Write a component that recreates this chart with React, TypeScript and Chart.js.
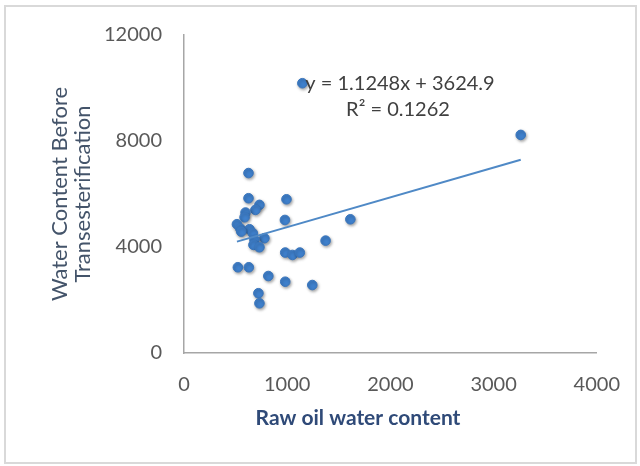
import React, { useEffect, useRef } from "react";
import { Chart, registerables } from "chart.js";

Chart.register(...registerables);

// Raw oil water content (x) vs Water Content Before Transesterification (y)
const rawOilWater: number[] = [
  1147, 3263, 625, 625, 993, 731, 692, 596, 587, 978, 1612, 513, 545, 635, 555, 667,
  779, 683, 1372, 673, 731, 981, 1051, 1122, 522, 628, 817, 981, 1243, 721, 731,
];
const waterBefore: number[] = [
  10180, 8230, 6790, 5840, 5800, 5590, 5400, 5300, 5120, 5020, 5045, 4860, 4700, 4670, 4580, 4520,
  4330, 4265, 4240, 4080, 3990, 3790, 3700, 3790, 3235, 3235, 2905, 2690, 2565, 2255, 1875,
];
// Linear trendline end points
const trendX: number[] = [513, 3263];
const trendY: number[] = [4202, 7295];

const xTicks: number[] = [0, 1000, 2000, 3000, 4000];
const yTicks: number[] = [0, 4000, 8000, 12000];

const equationText = "y = 1.1248x + 3624.9";
const r2Text = "R\u00B2 = 0.1262";
const xTitle = "Raw oil water content";
const yTitle: string[] = ["Water Content Before", "Transesterification"];

const FONT = "Lato, 'Open Sans', sans-serif";

export default function App() {
  const ref = useRef<HTMLCanvasElement | null>(null);

  useEffect(() => {
    if (!ref.current) return;
    const decorations = {
      id: "decorations",
      beforeDraw(chart: any) {
        const ctx = chart.ctx;
        ctx.save();
        ctx.fillStyle = "#ffffff";
        ctx.fillRect(0, 0, chart.width, chart.height);
        ctx.strokeStyle = "#D9D9D9";
        ctx.lineWidth = 2;
        ctx.strokeRect(5, 6, 631, 457);
        ctx.restore();
      },
      beforeDatasetDraw(chart: any, args: any) {
        if (args.index === 1) {
          const ctx = chart.ctx;
          ctx.save();
          ctx.shadowColor = "rgba(0,0,0,0.35)";
          ctx.shadowBlur = 3;
          ctx.shadowOffsetX = 1;
          ctx.shadowOffsetY = 1.5;
        }
      },
      afterDatasetDraw(chart: any, args: any) {
        if (args.index === 1) chart.ctx.restore();
      },
      afterDraw(chart: any) {
        const ctx = chart.ctx;
        ctx.save();
        // y axis title (two rotated lines)
        ctx.fillStyle = "#44546A";
        ctx.font = `22px ${FONT}`;
        ctx.textAlign = "center";
        ctx.textBaseline = "middle";
        const cy = (chart.chartArea.top + chart.chartArea.bottom) / 2;
        yTitle.forEach((t, i) => {
          ctx.save();
          ctx.translate(60 + i * 23, cy);
          ctx.rotate(-Math.PI / 2);
          ctx.fillText(t, 0, 0);
          ctx.restore();
        });
        // x axis title
        ctx.fillStyle = "#2F4A78";
        ctx.font = `bold 21px ${FONT}`;
        ctx.fillText(xTitle, 358, 418);
        // trendline equation
        ctx.fillStyle = "#404040";
        ctx.font = `20px ${FONT}`;
        ctx.fillText(equationText, 400, 84);
        ctx.fillText(r2Text, 398, 110);
        ctx.restore();
      },
    };

    const chart = new Chart(ref.current, {
      type: "scatter",
      data: {
        datasets: [
          {
            type: "line",
            data: trendX.map((x, i) => ({ x, y: trendY[i] })),
            borderColor: "#4F89C6",
            borderWidth: 2,
            pointRadius: 0,
            fill: false,
          },
          {
            data: rawOilWater.map((x, i) => ({ x, y: waterBefore[i] })),
            backgroundColor: "#3F80CC",
            borderColor: "#3A76BD",
            borderWidth: 1,
            pointRadius: 4.8,
          },
        ],
      } as any,
      options: {
        animation: false,
        responsive: false,
        layout: { padding: { left: 0, top: 35, right: 42, bottom: 0 } },
        plugins: {
          legend: { display: false },
          tooltip: { enabled: false },
        },
        scales: {
          x: {
            type: "linear",
            min: 0,
            max: 4000,
            afterBuildTicks: (s: any) => {
              s.ticks = xTicks.map((v) => ({ value: v }));
            },
            afterFit: (s: any) => {
              s.height = 113;
            },
            ticks: {
              padding: 20,
              color: "#595959",
              font: { family: FONT, size: 20 },
              callback: (v: any) => String(v),
            },
            grid: { display: false, drawTicks: false },
            border: { display: true, color: "#A6A6A6", width: 1.5 },
          },
          y: {
            type: "linear",
            min: 0,
            max: 12000,
            afterBuildTicks: (s: any) => {
              s.ticks = yTicks.map((v) => ({ value: v }));
            },
            afterFit: (s: any) => {
              s.width = 184;
            },
            ticks: {
              padding: 22,
              color: "#595959",
              font: { family: FONT, size: 20 },
              callback: (v: any) => String(v),
            },
            grid: { display: false, drawTicks: false },
            border: { display: true, color: "#A6A6A6", width: 1.5 },
          },
        },
      },
      plugins: [decorations],
    } as any);
    return () => chart.destroy();
  }, []);

  return (
    <div style={{ position: "fixed", left: 0, top: 0, width: 640, height: 466, background: "#fff" }}>
      <canvas ref={ref} width={640} height={466} style={{ width: 640, height: 466, display: "block" }} />
    </div>
  );
}
